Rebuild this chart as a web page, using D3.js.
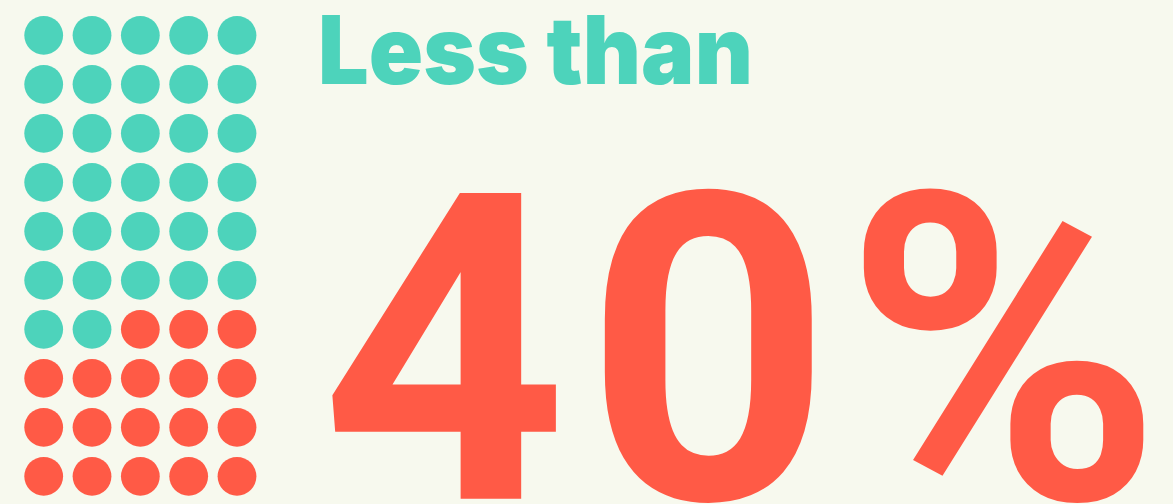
<!DOCTYPE html>
<html>
<head>
<meta charset="utf-8">
<script src="https://cdn.jsdelivr.net/npm/d3@7"></script>
<style>
  html, body { margin: 0; padding: 0; background: #f7f9ee; }
  svg { display: block; }
</style>
</head>
<body>
<svg></svg>
<script>
// waffle data: 50 dots, filled in reading order
const groups = ["other", "share"];
const counts = [32, 18];
const colors = ["#4dd3bb", "#ff5a46"];
const nCols = 5;
const nRows = 10;
const headline = "Less than";
const bigFigure = "40%";

const width = 1173;
const height = 504;

const svg = d3.select("svg")
  .attr("width", width)
  .attr("height", height);

svg.append("rect")
  .attr("width", width)
  .attr("height", height)
  .attr("fill", "#f7f9ee");

// one entry per dot
let dots = [];
groups.forEach((g, gi) => {
  for (let k = 0; k < counts[gi]; k++) dots.push({group: g, color: colors[gi]});
});
dots = dots.map((d, i) => ({...d, col: i % nCols, row: Math.floor(i / nCols)}));

const x = d3.scalePoint().domain(d3.range(nCols)).range([43.7, 237]);
const y = d3.scalePoint().domain(d3.range(nRows)).range([35.3, 476.3]);

svg.append("g")
  .selectAll("circle")
  .data(dots)
  .join("circle")
  .attr("cx", d => x(d.col))
  .attr("cy", d => y(d.row))
  .attr("r", 19.4)
  .attr("fill", d => d.color);

const ctx = document.createElement("canvas").getContext("2d");
const base = 100;

// fit a text's ink box into a target box using canvas metrics
function fitText(sel, str, font, weight, box) {
  ctx.font = `${weight} ${base}px ${font}`;
  const m = ctx.measureText(str);
  const inkH = m.actualBoundingBoxAscent + m.actualBoundingBoxDescent;
  const inkW = m.actualBoundingBoxLeft + m.actualBoundingBoxRight;
  const k = (box.y1 - box.y0) / inkH;
  const sx = (box.x1 - box.x0) / (inkW * k);
  const tx = box.x0 + m.actualBoundingBoxLeft * k * sx;
  const ty = box.y0 + m.actualBoundingBoxAscent * k;
  sel.append("text")
    .attr("transform", `translate(${tx},${ty}) scale(${sx},1)`)
    .attr("font-family", font)
    .attr("font-weight", weight)
    .attr("font-size", base * k)
    .text(str);
}

// big figure: one text, each glyph placed by its ink left edge
function fitGlyphs(sel, str, font, weight, lefts, refW, y0, y1) {
  ctx.font = `${weight} ${base}px ${font}`;
  const chars = Array.from(str);
  const ms = chars.map(c => ctx.measureText(c));
  const m0 = ctx.measureText("0");
  const inkH = m0.actualBoundingBoxAscent + m0.actualBoundingBoxDescent;
  const k = (y1 - y0) / inkH;
  const sx = refW / ((m0.actualBoundingBoxLeft + m0.actualBoundingBoxRight) * k);
  const ty = y0 + m0.actualBoundingBoxAscent * k;
  const t = sel.append("text")
    .attr("transform", `translate(0,${ty}) scale(${sx},1)`)
    .attr("font-family", font)
    .attr("font-weight", weight)
    .attr("font-size", base * k);
  t.selectAll("tspan")
    .data(chars)
    .join("tspan")
    .attr("x", (c, i) => lefts[i] / sx + ms[i].actualBoundingBoxLeft * k)
    .text(c => c);
}

const g1 = svg.append("g").attr("fill", colors[0]);
fitText(g1, headline, "Inter", 900, {x0: 321.7, x1: 748.5, y0: 15.3, y1: 85});

const g2 = svg.append("g").attr("fill", colors[1]);
fitGlyphs(g2, bigFigure, "Roboto", 700, [329, 602, 861], 211, 184.7, 503);
</script>
</body>
</html>
